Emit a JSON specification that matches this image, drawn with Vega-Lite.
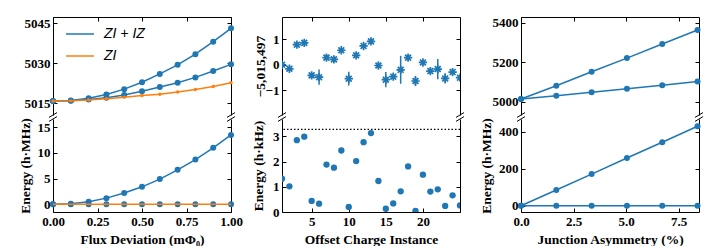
{
  "$schema": "https://vega.github.io/schema/vega-lite/v6.json",
  "padding": {"left": 17, "top": 16, "right": 0, "bottom": 0},
  "background": "white",
  "datasets": {
    "flux": [
      {"flux": 0.0, "curve": "a", "series": "ZI + IZ", "energy": 5015.75},
      {"flux": 0.1, "curve": "a", "series": "ZI + IZ", "energy": 5015.9},
      {"flux": 0.2, "curve": "a", "series": "ZI + IZ", "energy": 5016.8},
      {"flux": 0.3, "curve": "a", "series": "ZI + IZ", "energy": 5018.2},
      {"flux": 0.4, "curve": "a", "series": "ZI + IZ", "energy": 5020.2},
      {"flux": 0.5, "curve": "a", "series": "ZI + IZ", "energy": 5022.8},
      {"flux": 0.6, "curve": "a", "series": "ZI + IZ", "energy": 5025.9},
      {"flux": 0.7, "curve": "a", "series": "ZI + IZ", "energy": 5029.3},
      {"flux": 0.8, "curve": "a", "series": "ZI + IZ", "energy": 5033.3},
      {"flux": 0.9, "curve": "a", "series": "ZI + IZ", "energy": 5038.0},
      {"flux": 1.0, "curve": "a", "series": "ZI + IZ", "energy": 5043.0},
      {"flux": 0.0, "curve": "b", "series": "ZI + IZ", "energy": 5015.75},
      {"flux": 0.1, "curve": "b", "series": "ZI + IZ", "energy": 5015.8},
      {"flux": 0.2, "curve": "b", "series": "ZI + IZ", "energy": 5016.3},
      {"flux": 0.3, "curve": "b", "series": "ZI + IZ", "energy": 5017.0},
      {"flux": 0.4, "curve": "b", "series": "ZI + IZ", "energy": 5018.0},
      {"flux": 0.5, "curve": "b", "series": "ZI + IZ", "energy": 5019.4},
      {"flux": 0.6, "curve": "b", "series": "ZI + IZ", "energy": 5021.0},
      {"flux": 0.7, "curve": "b", "series": "ZI + IZ", "energy": 5022.6},
      {"flux": 0.8, "curve": "b", "series": "ZI + IZ", "energy": 5024.6},
      {"flux": 0.9, "curve": "b", "series": "ZI + IZ", "energy": 5027.0},
      {"flux": 1.0, "curve": "b", "series": "ZI + IZ", "energy": 5029.5},
      {"flux": 0.0, "curve": "c", "series": "ZI", "energy": 5015.75},
      {"flux": 0.1, "curve": "c", "series": "ZI", "energy": 5015.8},
      {"flux": 0.2, "curve": "c", "series": "ZI", "energy": 5016.1},
      {"flux": 0.3, "curve": "c", "series": "ZI", "energy": 5016.6},
      {"flux": 0.4, "curve": "c", "series": "ZI", "energy": 5017.2},
      {"flux": 0.5, "curve": "c", "series": "ZI", "energy": 5017.8},
      {"flux": 0.6, "curve": "c", "series": "ZI", "energy": 5018.3},
      {"flux": 0.7, "curve": "c", "series": "ZI", "energy": 5019.1},
      {"flux": 0.8, "curve": "c", "series": "ZI", "energy": 5020.1},
      {"flux": 0.9, "curve": "c", "series": "ZI", "energy": 5021.2},
      {"flux": 1.0, "curve": "c", "series": "ZI", "energy": 5022.6}
    ],
    "fluxDiff": [
      {"flux": 0.0, "series": "ZI + IZ", "energy": 0.0},
      {"flux": 0.1, "series": "ZI + IZ", "energy": 0.1},
      {"flux": 0.2, "series": "ZI + IZ", "energy": 0.5},
      {"flux": 0.3, "series": "ZI + IZ", "energy": 1.2},
      {"flux": 0.4, "series": "ZI + IZ", "energy": 2.2},
      {"flux": 0.5, "series": "ZI + IZ", "energy": 3.4},
      {"flux": 0.6, "series": "ZI + IZ", "energy": 4.9},
      {"flux": 0.7, "series": "ZI + IZ", "energy": 6.7},
      {"flux": 0.8, "series": "ZI + IZ", "energy": 8.7},
      {"flux": 0.9, "series": "ZI + IZ", "energy": 11.0},
      {"flux": 1.0, "series": "ZI + IZ", "energy": 13.5},
      {"flux": 0.0, "series": "ZI", "energy": 0},
      {"flux": 0.1, "series": "ZI", "energy": 0},
      {"flux": 0.2, "series": "ZI", "energy": 0},
      {"flux": 0.3, "series": "ZI", "energy": 0},
      {"flux": 0.4, "series": "ZI", "energy": 0},
      {"flux": 0.5, "series": "ZI", "energy": 0},
      {"flux": 0.6, "series": "ZI", "energy": 0},
      {"flux": 0.7, "series": "ZI", "energy": 0},
      {"flux": 0.8, "series": "ZI", "energy": 0},
      {"flux": 0.9, "series": "ZI", "energy": 0},
      {"flux": 1.0, "series": "ZI", "energy": 0}
    ],
    "offset": [
      {"instance": 1, "shift": 0.00, "lo": -0.08, "hi": 0.08, "gap": 1.32},
      {"instance": 2, "shift": -0.16, "lo": -0.24, "hi": -0.08, "gap": 1.02},
      {"instance": 3, "shift": 0.79, "lo": 0.71, "hi": 0.87, "gap": 2.85},
      {"instance": 4, "shift": 0.86, "lo": 0.78, "hi": 0.94, "gap": 2.99},
      {"instance": 5, "shift": -0.42, "lo": -0.52, "hi": -0.32, "gap": 0.44},
      {"instance": 6, "shift": -0.49, "lo": -0.79, "hi": -0.19, "gap": 0.33},
      {"instance": 7, "shift": 0.28, "lo": 0.2, "hi": 0.36, "gap": 1.88},
      {"instance": 8, "shift": 0.21, "lo": 0.13, "hi": 0.29, "gap": 1.76},
      {"instance": 9, "shift": 0.57, "lo": 0.49, "hi": 0.65, "gap": 2.44},
      {"instance": 10, "shift": -0.55, "lo": -0.82, "hi": -0.28, "gap": 0.2},
      {"instance": 11, "shift": 0.37, "lo": 0.29, "hi": 0.45, "gap": 2.02},
      {"instance": 12, "shift": 0.74, "lo": 0.66, "hi": 0.82, "gap": 2.77},
      {"instance": 13, "shift": 0.92, "lo": 0.84, "hi": 1.0, "gap": 3.13},
      {"instance": 14, "shift": -0.03, "lo": -0.13, "hi": 0.07, "gap": 1.23},
      {"instance": 15, "shift": -0.59, "lo": -0.89, "hi": -0.29, "gap": 0.13},
      {"instance": 16, "shift": -0.47, "lo": -0.57, "hi": -0.37, "gap": 0.34},
      {"instance": 17, "shift": -0.2, "lo": -0.75, "hi": 0.35, "gap": 0.82},
      {"instance": 18, "shift": 0.28, "lo": 0.2, "hi": 0.36, "gap": 1.81},
      {"instance": 19, "shift": -0.64, "lo": -0.84, "hi": -0.44, "gap": 0.04},
      {"instance": 20, "shift": 0.09, "lo": -0.01, "hi": 0.19, "gap": 1.48},
      {"instance": 21, "shift": -0.25, "lo": -0.37, "hi": -0.13, "gap": 0.81},
      {"instance": 22, "shift": -0.17, "lo": -0.57, "hi": 0.23, "gap": 0.9},
      {"instance": 23, "shift": -0.54, "lo": -0.74, "hi": -0.34, "gap": 0.24},
      {"instance": 24, "shift": -0.29, "lo": -0.39, "hi": -0.19, "gap": 0.66},
      {"instance": 25, "shift": -0.51, "lo": -0.61, "hi": -0.41, "gap": 0.26}
    ],
    "asym": [
      {"asym": 0.0, "curve": "a", "energy": 5014},
      {"asym": 1.68, "curve": "a", "energy": 5081},
      {"asym": 3.36, "curve": "a", "energy": 5152},
      {"asym": 5.04, "curve": "a", "energy": 5221},
      {"asym": 6.72, "curve": "a", "energy": 5292},
      {"asym": 8.4, "curve": "a", "energy": 5363},
      {"asym": 0.0, "curve": "b", "energy": 5014},
      {"asym": 1.68, "curve": "b", "energy": 5030},
      {"asym": 3.36, "curve": "b", "energy": 5048},
      {"asym": 5.04, "curve": "b", "energy": 5066},
      {"asym": 6.72, "curve": "b", "energy": 5083},
      {"asym": 8.4, "curve": "b", "energy": 5103}
    ],
    "asymDiff": [
      {"asym": 0.0, "curve": "a", "energy": 0},
      {"asym": 1.68, "curve": "a", "energy": 85},
      {"asym": 3.36, "curve": "a", "energy": 171},
      {"asym": 5.04, "curve": "a", "energy": 258},
      {"asym": 6.72, "curve": "a", "energy": 343},
      {"asym": 8.4, "curve": "a", "energy": 430},
      {"asym": 0.0, "curve": "b", "energy": 0},
      {"asym": 1.68, "curve": "b", "energy": 0},
      {"asym": 3.36, "curve": "b", "energy": 0},
      {"asym": 5.04, "curve": "b", "energy": 0},
      {"asym": 6.72, "curve": "b", "energy": 0},
      {"asym": 8.4, "curve": "b", "energy": 0}
    ]
  },
  "columns": 5,
  "align": "each",
  "bounds": "flush",
  "spacing": {"row": 4, "column": 0},
  "concat": [
    {
      "width": 178, "height": 98,
      "layer": [
        {"data": {"name": "flux"}, "transform": [{"filter": "datum.series == 'ZI + IZ'"}],
         "mark": {"type": "line", "strokeWidth": 1.5},
         "encoding": {
           "x": {"field": "flux", "type": "quantitative", "scale": {"domain": [0, 1], "nice": false, "zero": false},
                 "axis": {"orient": "top", "labels": false, "values": [0, 0.25, 0.5, 0.75, 1], "title": null}},
           "y": {"field": "energy", "type": "quantitative", "scale": {"domain": [5010.5, 5047.25], "nice": false, "zero": false},
                 "axis": {"orient": "left", "values": [5015, 5030, 5045], "format": "d", "title": null}},
           "color": {"field": "series", "type": "nominal",
                     "scale": {"domain": ["ZI + IZ", "ZI"], "range": ["#1f77b4", "#ff7f0e"]},
                     "legend": {"orient": "none", "legendX": 12, "legendY": 2, "title": null, "padding": 0,
                                "symbolType": "stroke", "symbolSize": 784, "symbolStrokeWidth": 1.5,
                                "labelFont": "Liberation Sans", "labelFontStyle": "italic", "labelFontSize": 14,
                                "labelColor": "black", "labelOffset": 9, "rowPadding": -8}},
           "detail": {"field": "curve"}
         }},
        {"data": {"name": "flux"}, "transform": [{"filter": "datum.series == 'ZI + IZ'"}],
         "mark": {"type": "point", "filled": true, "size": 36, "color": "#1f77b4", "opacity": 1, "clip": false},
         "encoding": {
           "x": {"field": "flux", "type": "quantitative", "axis": null},
           "y": {"field": "energy", "type": "quantitative", "axis": null}
         }},
        {"data": {"name": "flux"}, "transform": [{"filter": "datum.series == 'ZI'"}],
         "mark": {"type": "line", "strokeWidth": 1.5},
         "encoding": {
           "x": {"field": "flux", "type": "quantitative", "axis": null},
           "y": {"field": "energy", "type": "quantitative", "axis": null},
           "color": {"field": "series", "type": "nominal"}
         }},
        {"data": {"name": "flux"}, "transform": [{"filter": "datum.series == 'ZI'"}],
         "mark": {"type": "point", "filled": true, "size": 12, "color": "#ff7f0e", "opacity": 1, "clip": false},
         "encoding": {
           "x": {"field": "flux", "type": "quantitative", "axis": null},
           "y": {"field": "energy", "type": "quantitative", "axis": null}
         }},
        {"data": {"values": [{}]},
         "mark": {"type": "point", "shape": "M-1,0.6L1,-0.6", "filled": false, "color": "black", "strokeWidth": 1, "size": 64, "opacity": 1, "clip": false},
         "encoding": {
           "x": {"datum": 0, "type": "quantitative", "axis": null},
           "y": {"datum": 5010.5, "type": "quantitative", "axis": {"orient": "right", "labels": false, "values": [5015, 5030, 5045], "title": null}}
         }},
        {"data": {"values": [{}]},
         "mark": {"type": "point", "shape": "M-1,0.6L1,-0.6", "filled": false, "color": "black", "strokeWidth": 1, "size": 64, "opacity": 1, "clip": false},
         "encoding": {
           "x": {"datum": 1, "type": "quantitative", "axis": null},
           "y": {"datum": 5010.5, "type": "quantitative", "axis": null}
         }}
      ],
      "resolve": {"axis": {"x": "independent", "y": "independent"}}
    },
    {"width": 51, "height": 98, "data": {"values": [{}]}, "mark": {"type": "point", "opacity": 0}},
    {
      "width": 178, "height": 98,
      "layer": [
        {"data": {"name": "offset"},
         "mark": {"type": "rule", "strokeWidth": 1.5, "color": "#1f77b4", "clip": true},
         "encoding": {
           "x": {"field": "instance", "type": "quantitative", "scale": {"domain": [1, 25], "nice": false, "zero": false},
                 "axis": {"orient": "top", "labels": false, "values": [5, 10, 15, 20], "title": null}},
           "y": {"field": "lo", "type": "quantitative", "scale": {"domain": [-1.98, 1.88], "nice": false, "zero": false},
                 "axis": {"orient": "left", "values": [-1, 0, 1], "title": "\u22125,015,497", "titleX": -22, "titleBaseline": "middle"}},
           "y2": {"field": "hi"}
         }},
        {"data": {"name": "offset"},
         "mark": {"type": "point", "shape": "M0,-1L0,1M-1,0L1,0M-0.7,-0.7L0.7,0.7M-0.7,0.7L0.7,-0.7", "filled": false, "color": "#1f77b4", "strokeWidth": 1.7, "size": 70, "opacity": 1, "clip": true},
         "encoding": {
           "x": {"field": "instance", "type": "quantitative", "axis": null},
           "y": {"field": "shift", "type": "quantitative", "axis": null}
         }},
        {"data": {"values": [{}]},
         "mark": {"type": "point", "shape": "M-1,0.6L1,-0.6", "filled": false, "color": "black", "strokeWidth": 1, "size": 64, "opacity": 1, "clip": false},
         "encoding": {
           "x": {"datum": 1, "type": "quantitative", "axis": null},
           "y": {"datum": -1.98, "type": "quantitative", "axis": {"orient": "right", "labels": false, "values": [-1, 0, 1], "title": null}}
         }},
        {"data": {"values": [{}]},
         "mark": {"type": "point", "shape": "M-1,0.6L1,-0.6", "filled": false, "color": "black", "strokeWidth": 1, "size": 64, "opacity": 1, "clip": false},
         "encoding": {
           "x": {"datum": 25, "type": "quantitative", "axis": null},
           "y": {"datum": -1.98, "type": "quantitative", "axis": null}
         }}
      ],
      "resolve": {"axis": {"x": "independent", "y": "independent"}}
    },
    {"width": 61, "height": 98, "data": {"values": [{}]}, "mark": {"type": "point", "opacity": 0}},
    {
      "width": 178, "height": 98,
      "layer": [
        {"data": {"name": "asym"},
         "mark": {"type": "line", "strokeWidth": 1.5, "color": "#1f77b4"},
         "encoding": {
           "x": {"field": "asym", "type": "quantitative", "scale": {"domain": [0, 8.47], "nice": false, "zero": false},
                 "axis": {"orient": "top", "labels": false, "values": [0, 2.5, 5, 7.5], "title": null}},
           "y": {"field": "energy", "type": "quantitative", "scale": {"domain": [4933, 5429], "nice": false, "zero": false},
                 "axis": {"orient": "left", "values": [5000, 5200, 5400], "format": "d", "title": null}},
           "detail": {"field": "curve"}
         }},
        {"data": {"name": "asym"},
         "mark": {"type": "point", "filled": true, "size": 36, "color": "#1f77b4", "opacity": 1, "clip": false},
         "encoding": {
           "x": {"field": "asym", "type": "quantitative", "axis": null},
           "y": {"field": "energy", "type": "quantitative", "axis": null}
         }},
        {"data": {"values": [{}]},
         "mark": {"type": "point", "shape": "M-1,0.6L1,-0.6", "filled": false, "color": "black", "strokeWidth": 1, "size": 64, "opacity": 1, "clip": false},
         "encoding": {
           "x": {"datum": 0, "type": "quantitative", "axis": null},
           "y": {"datum": 4933, "type": "quantitative", "axis": {"orient": "right", "labels": false, "values": [5000, 5200, 5400], "title": null}}
         }},
        {"data": {"values": [{}]},
         "mark": {"type": "point", "shape": "M-1,0.6L1,-0.6", "filled": false, "color": "black", "strokeWidth": 1, "size": 64, "opacity": 1, "clip": false},
         "encoding": {
           "x": {"datum": 8.47, "type": "quantitative", "axis": null},
           "y": {"datum": 4933, "type": "quantitative", "axis": null}
         }}
      ],
      "resolve": {"axis": {"x": "independent", "y": "independent"}}
    },
    {
      "width": 178, "height": 93,
      "layer": [
        {"data": {"name": "fluxDiff"},
         "mark": {"type": "point", "filled": true, "size": 36, "color": "#1f77b4", "opacity": 1, "clip": false},
         "encoding": {
           "x": {"field": "flux", "type": "quantitative", "scale": {"domain": [0, 1], "nice": false, "zero": false},
                 "axis": {"orient": "bottom", "values": [0, 0.25, 0.5, 0.75, 1], "format": ".2f", "title": "Flux Deviation (m\u03a6\u2080)"}},
           "y": {"field": "energy", "type": "quantitative", "scale": {"domain": [-1.5, 16.6], "nice": false, "zero": false},
                 "axis": {"orient": "left", "values": [0, 5, 10, 15], "title": "Energy (h\u00b7MHz)", "titleX": -28, "titleBaseline": "middle"}}
         }},
        {"data": {"name": "fluxDiff"},
         "mark": {"type": "line", "strokeWidth": 1.5},
         "encoding": {
           "x": {"field": "flux", "type": "quantitative", "axis": null},
           "y": {"field": "energy", "type": "quantitative", "axis": null},
           "color": {"field": "series", "type": "nominal", "scale": {"domain": ["ZI + IZ", "ZI"], "range": ["#1f77b4", "#ff7f0e"]}, "legend": null},
           "order": {"field": "flux"}
         }},
        {"data": {"values": [{}]},
         "mark": {"type": "point", "shape": "M-1,0.6L1,-0.6", "filled": false, "color": "black", "strokeWidth": 1, "size": 64, "opacity": 1, "clip": false},
         "encoding": {
           "x": {"datum": 0, "type": "quantitative", "axis": null},
           "y": {"datum": 16.6, "type": "quantitative", "axis": {"orient": "right", "labels": false, "values": [0, 5, 10, 15], "title": null}}
         }},
        {"data": {"values": [{}]},
         "mark": {"type": "point", "shape": "M-1,0.6L1,-0.6", "filled": false, "color": "black", "strokeWidth": 1, "size": 64, "opacity": 1, "clip": false},
         "encoding": {
           "x": {"datum": 1, "type": "quantitative", "axis": null},
           "y": {"datum": 16.6, "type": "quantitative", "axis": null}
         }}
      ],
      "resolve": {"axis": {"x": "independent", "y": "independent"}}
    },
    {"width": 51, "height": 93, "data": {"values": [{}]}, "mark": {"type": "point", "opacity": 0}},
    {
      "width": 178, "height": 93,
      "layer": [
        {"data": {"name": "offset"},
         "mark": {"type": "point", "filled": true, "size": 40, "color": "#1f77b4", "opacity": 1, "clip": true},
         "encoding": {
           "x": {"field": "instance", "type": "quantitative", "scale": {"domain": [1, 25], "nice": false, "zero": false},
                 "axis": {"orient": "bottom", "values": [5, 10, 15, 20], "title": "Offset Charge Instance"}},
           "y": {"field": "gap", "type": "quantitative", "scale": {"domain": [0, 3.69], "nice": false, "zero": false},
                 "axis": {"orient": "left", "values": [0, 1, 2, 3], "title": "Energy (h\u00b7kHz)", "titleX": -24, "titleBaseline": "middle"}}
         }},
        {"data": {"values": [{}]},
         "mark": {"type": "rule", "strokeDash": [1.5, 2], "color": "black", "strokeWidth": 1.2},
         "encoding": {
           "y": {"datum": 3.28, "type": "quantitative", "axis": null}
         }},
        {"data": {"values": [{}]},
         "mark": {"type": "point", "shape": "M-1,0.6L1,-0.6", "filled": false, "color": "black", "strokeWidth": 1, "size": 64, "opacity": 1, "clip": false},
         "encoding": {
           "x": {"datum": 1, "type": "quantitative", "axis": null},
           "y": {"datum": 3.69, "type": "quantitative", "axis": {"orient": "right", "labels": false, "values": [0, 1, 2, 3], "title": null}}
         }},
        {"data": {"values": [{}]},
         "mark": {"type": "point", "shape": "M-1,0.6L1,-0.6", "filled": false, "color": "black", "strokeWidth": 1, "size": 64, "opacity": 1, "clip": false},
         "encoding": {
           "x": {"datum": 25, "type": "quantitative", "axis": null},
           "y": {"datum": 3.69, "type": "quantitative", "axis": null}
         }}
      ],
      "resolve": {"axis": {"x": "independent", "y": "independent"}}
    },
    {"width": 61, "height": 93, "data": {"values": [{}]}, "mark": {"type": "point", "opacity": 0}},
    {
      "width": 178, "height": 93,
      "layer": [
        {"data": {"name": "asymDiff"},
         "mark": {"type": "line", "strokeWidth": 1.5, "color": "#1f77b4"},
         "encoding": {
           "x": {"field": "asym", "type": "quantitative", "scale": {"domain": [0, 8.47], "nice": false, "zero": false},
                 "axis": {"orient": "bottom", "values": [0, 2.5, 5, 7.5], "format": ".1f", "title": "Junction Asymmetry (%)"}},
           "y": {"field": "energy", "type": "quantitative", "scale": {"domain": [-34, 469], "nice": false, "zero": false},
                 "axis": {"orient": "left", "values": [0, 200, 400], "title": "Energy (h\u00b7MHz)", "titleX": -35, "titleBaseline": "middle"}},
           "detail": {"field": "curve"}
         }},
        {"data": {"name": "asymDiff"},
         "mark": {"type": "point", "filled": true, "size": 36, "color": "#1f77b4", "opacity": 1, "clip": false},
         "encoding": {
           "x": {"field": "asym", "type": "quantitative", "axis": null},
           "y": {"field": "energy", "type": "quantitative", "axis": null}
         }},
        {"data": {"values": [{}]},
         "mark": {"type": "point", "shape": "M-1,0.6L1,-0.6", "filled": false, "color": "black", "strokeWidth": 1, "size": 64, "opacity": 1, "clip": false},
         "encoding": {
           "x": {"datum": 0, "type": "quantitative", "axis": null},
           "y": {"datum": 469, "type": "quantitative", "axis": {"orient": "right", "labels": false, "values": [0, 200, 400], "title": null}}
         }},
        {"data": {"values": [{}]},
         "mark": {"type": "point", "shape": "M-1,0.6L1,-0.6", "filled": false, "color": "black", "strokeWidth": 1, "size": 64, "opacity": 1, "clip": false},
         "encoding": {
           "x": {"datum": 8.47, "type": "quantitative", "axis": null},
           "y": {"datum": 469, "type": "quantitative", "axis": null}
         }}
      ],
      "resolve": {"axis": {"x": "independent", "y": "independent"}}
    }
  ],
  "config": {
    "view": {"stroke": null},
    "axis": {
      "grid": false, "domainColor": "black", "domainWidth": 1, "tickColor": "black", "tickWidth": 1, "tickSize": -4,
      "labelPadding": 7, "labelFont": "Liberation Serif", "labelFontWeight": "bold", "labelFontSize": 13, "labelColor": "black",
      "titleFont": "Liberation Serif", "titleFontWeight": "bold", "titleFontSize": 13.5, "titleColor": "black",
      "labelFlush": false, "labelOverlap": false
    }
  }
}
